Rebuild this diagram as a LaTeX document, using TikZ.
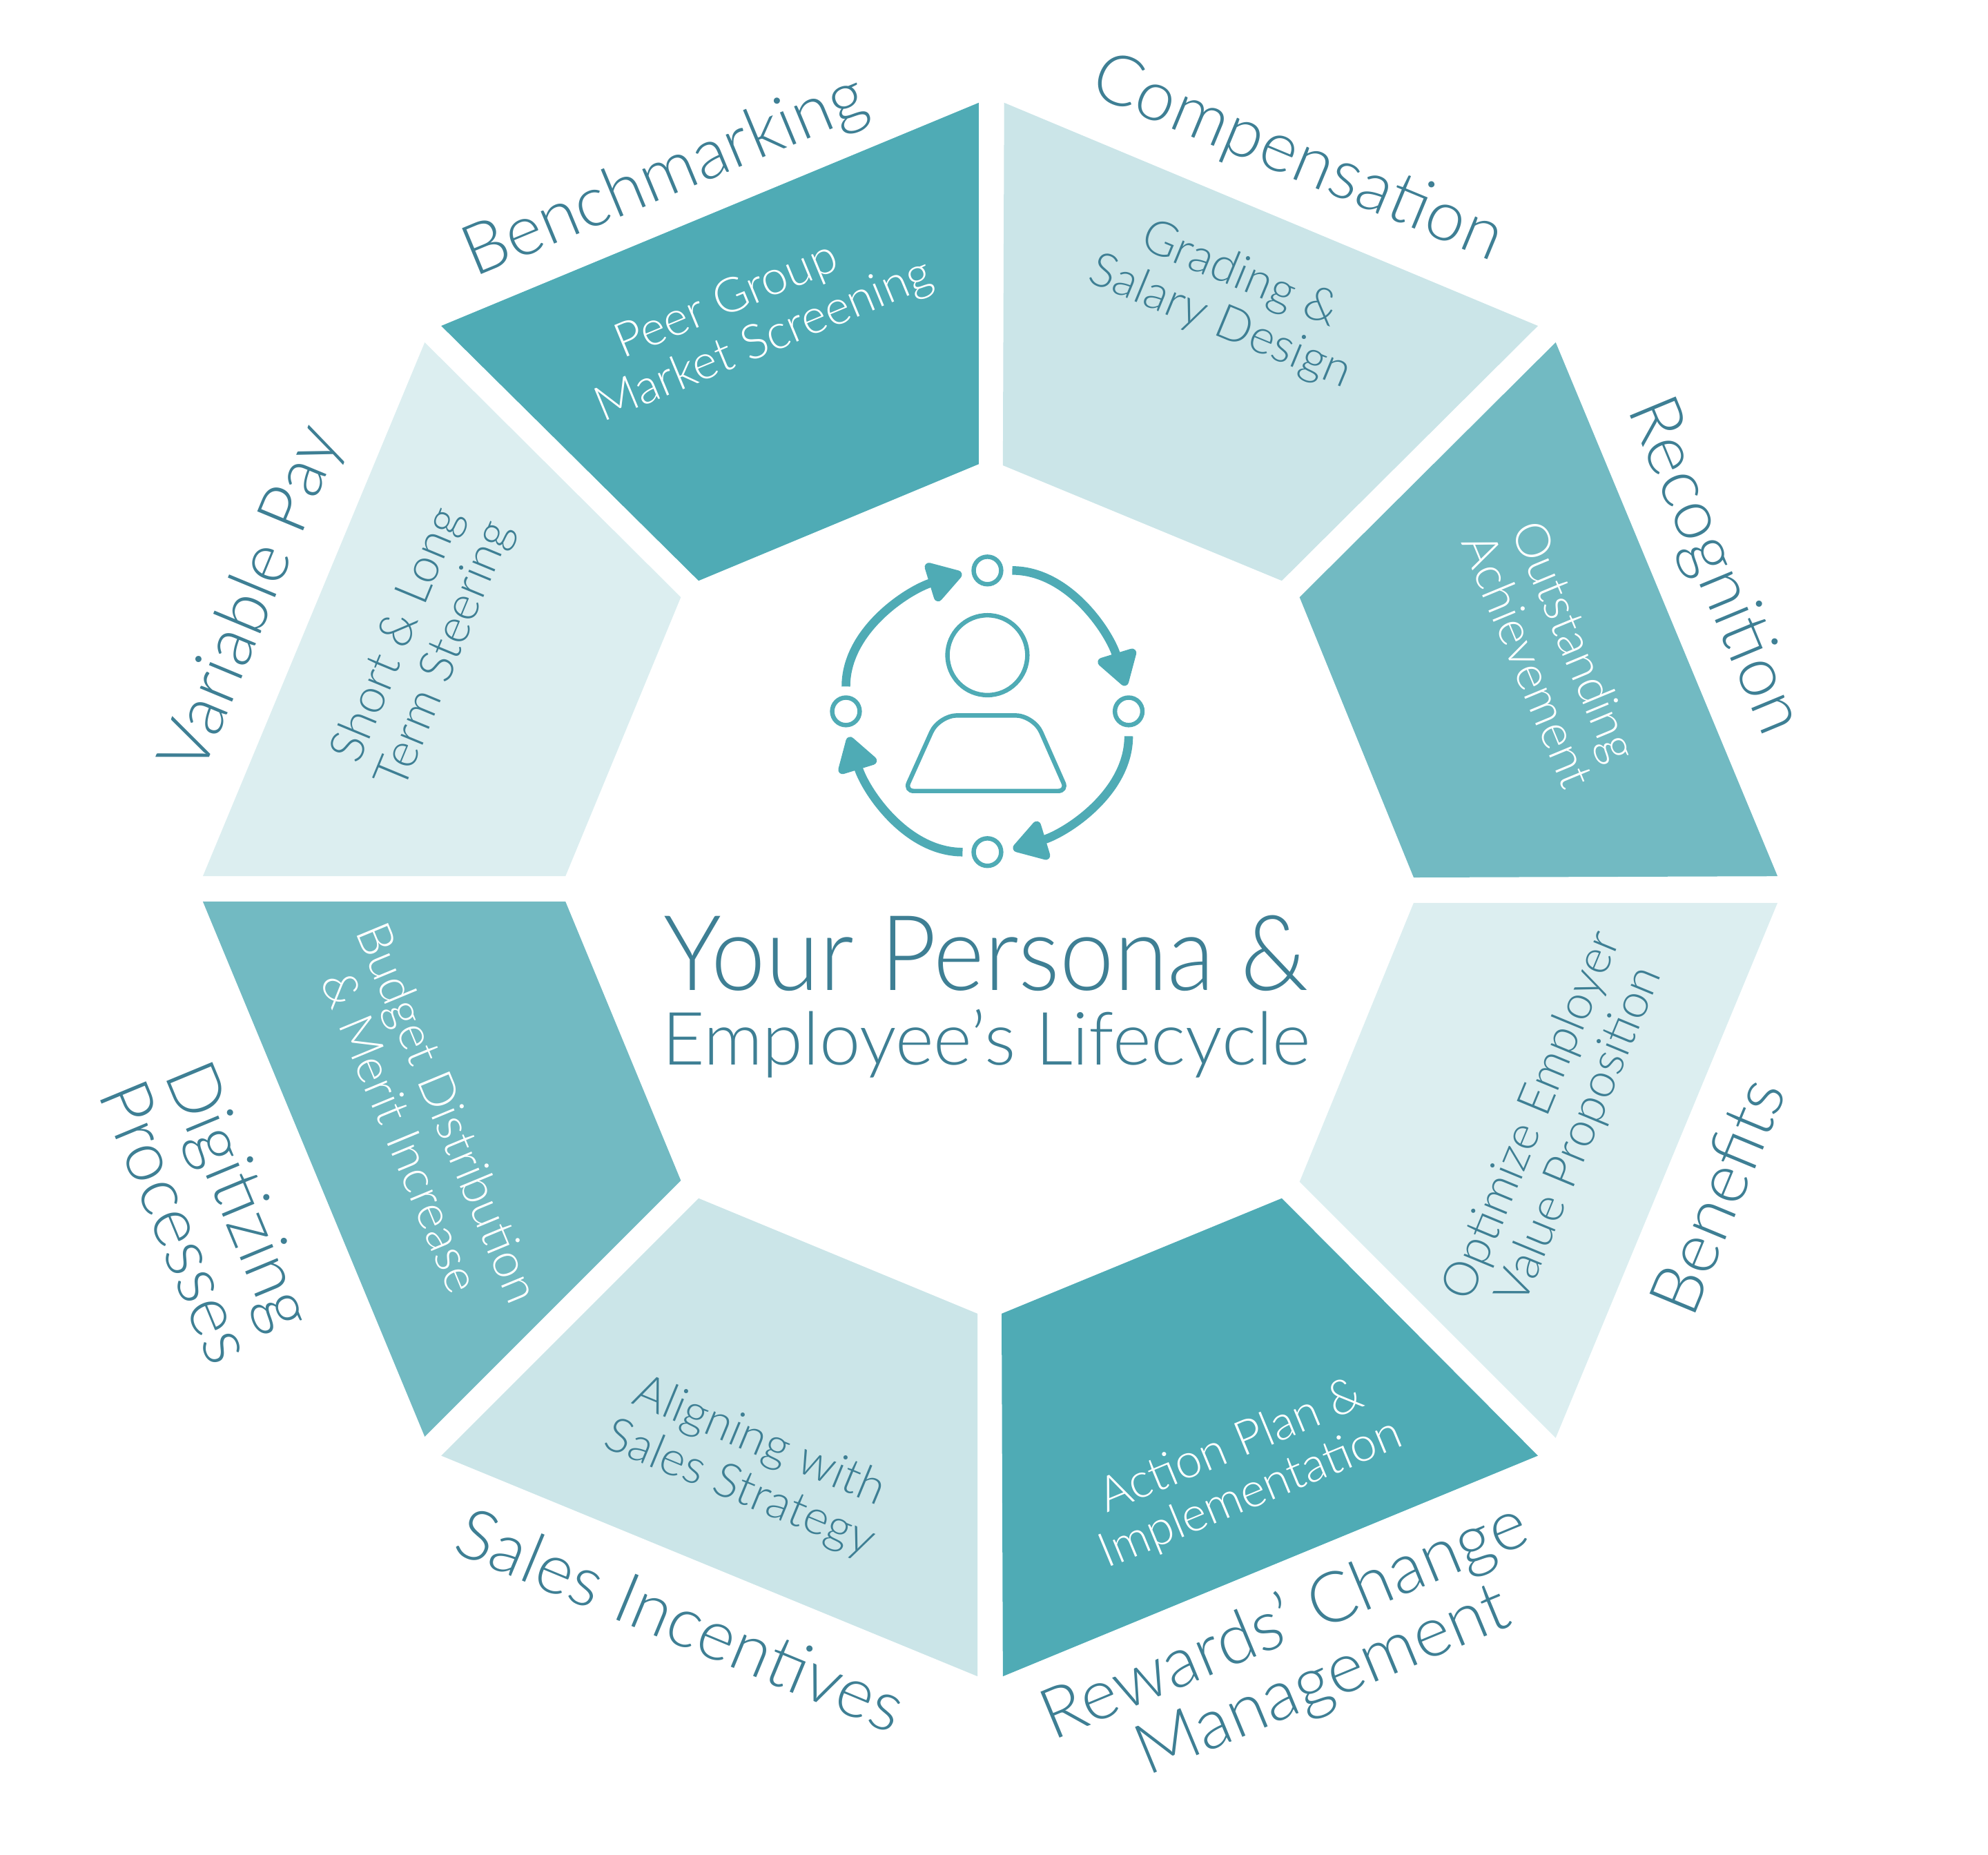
\documentclass[tikz,border=0pt]{standalone}
\usepackage{fontspec}
\setmainfont{Lato}[UprightFont=* Light]
\usetikzlibrary{arrows.meta}
\definecolor{segdark}{HTML}{4FABB5}
\definecolor{segmid}{HTML}{72BAC2}
\definecolor{seglight}{HTML}{CBE5E8}
\definecolor{segpale}{HTML}{DCEEF0}
\definecolor{labelteal}{HTML}{3E7F94}
\tikzset{
	biglabel/.style={text=labelteal,align=center,inner sep=0pt,font=\fontsize{31.5}{31}\selectfont},
	sublabel/.style={text=labelteal,align=center,inner sep=0pt,font=\fontsize{21.5}{23}\selectfont},
	ringdot/.style={circle,draw=segdark,line width=.07cm,minimum size=.434cm,inner sep=0pt},
	ringarrow/.style={draw=segdark,line width=.136cm,-{Triangle[length=.6cm,width=.7cm,round]},shorten >=.16cm,shorten <=.14cm,looseness=.95},
}
\begin{document}
\begin{tikzpicture}[x=.02cm,y=-.02cm]
	\useasboundingbox (0,0) rectangle (1568,1462.4);
	% segments
	\fill[seglight] (792,81) -- (1213,257) -- (1011,458) -- (791,367) -- cycle;
	\fill[segmid] (1227,270) -- (1402,691) -- (1115,692) -- (1025,471) -- cycle;
	\fill[segpale] (1402,712) -- (1227,1134) -- (1025,932) -- (1115,712) -- cycle;
	\fill[segdark] (1213,1148) -- (791,1322) -- (790,1036) -- (1011,945) -- cycle;
	\fill[seglight] (771,1322) -- (348,1148) -- (551,945) -- (771,1036) -- cycle;
	\fill[segmid] (335,1133) -- (160,711) -- (446,711) -- (537,931) -- cycle;
	\fill[segpale] (160,691) -- (335,270) -- (537,471) -- (446,691) -- cycle;
	\fill[segdark] (348,257) -- (772,81) -- (772,366) -- (551,458) -- cycle;
	% outer labels
	\node[biglabel,rotate=-22.5] (compensation) at (1023,126) {Compensation};
	\node[biglabel,rotate=-67.5] (recognition) at (1351,447) {Recognition};
	\node[biglabel,rotate=67.5] (benefits) at (1354,943) {Benefits};
	\node[biglabel,rotate=22.5] (rewards) at (1024,1305) {Rewards’ Change\\\hspace*{.4cm}Management};
	\node[biglabel,rotate=-22.5] (sales) at (537,1277) {Sales Incentives};
	\node[biglabel,rotate=-67.5] (digitizing) at (165,953) {Digitizing\\Processes};
	\node[biglabel,rotate=67.5] (variable) at (200,473) {Variable Pay};
	\node[biglabel,rotate=22.5] (benchmarking) at (525,140) {Benchmarking};
	% inner labels
	\node[sublabel,rotate=-22.5] (grading) at (970,236) {Grading \&\\Salary Design};
	\node[sublabel,rotate=-67.5,text=white] (outstanding) at (1224,513) {Outstanding\\Achievement};
	\node[sublabel,rotate=67.5] (optimize) at (1228,888) {Optimize Employer\\Value Proposition};
	\node[sublabel,rotate=22.5,text=white] (action) at (979,1160) {Action Plan \&\\Implementation};
	\node[sublabel,rotate=-22.5] (aligning) at (591,1156) {Aligning with\\Sales Strategy};
	\node[sublabel,rotate=-67.5,text=white] (budget) at (335,885) {Budget Distribution\\\& Merit Increase};
	\node[sublabel,rotate=67.5] (shortlong) at (333,509) {Short \& Long\\Term Steering};
	\node[sublabel,rotate=22.5,text=white] (peer) at (595,251) {Peer Group\hspace*{.6cm}\\Market Screening};
	% centre title
	\node[text=labelteal,inner sep=0pt,xscale=.93,font=\fontsize{47}{47}\selectfont] (persona) at (778,752) {Your Persona \&};
	\node[text=labelteal,inner sep=0pt,font=\fontsize{33}{33}\selectfont] (lifecycle) at (778,823) {Employee’s Lifecycle};
	% person and ring
	\node[circle,draw=segdark,line width=.07cm,minimum size=1.26cm,inner sep=0pt] (head) at (778.8,516.7) {};
	\draw[draw=segdark,line width=.07cm] (778,623.8) [rounded corners=.14cm] -- (713.7,623.8) [rounded corners=.29cm] -- (740.5,564.2) -- (815.3,564.2) [rounded corners=.14cm] -- (841.6,623.8) -- cycle;
	\node[ringdot] (ringtop) at (778.8,449.9) {};
	\node[ringdot] (ringright) at (890.2,561) {};
	\node[ringdot] (ringbottom) at (778.8,672) {};
	\node[ringdot] (ringleft) at (667.2,561) {};
	\draw[ringarrow] (ringleft.north) to[out=90,in=197] (ringtop.west);
	\draw[ringarrow] (ringtop.east) to[out=0,in=107] (ringright.north);
	\draw[ringarrow] (ringright.south) to[out=-90,in=17] (ringbottom.east);
	\draw[ringarrow] (ringbottom.west) to[out=180,in=-73] (ringleft.south);
\end{tikzpicture}
\end{document}
